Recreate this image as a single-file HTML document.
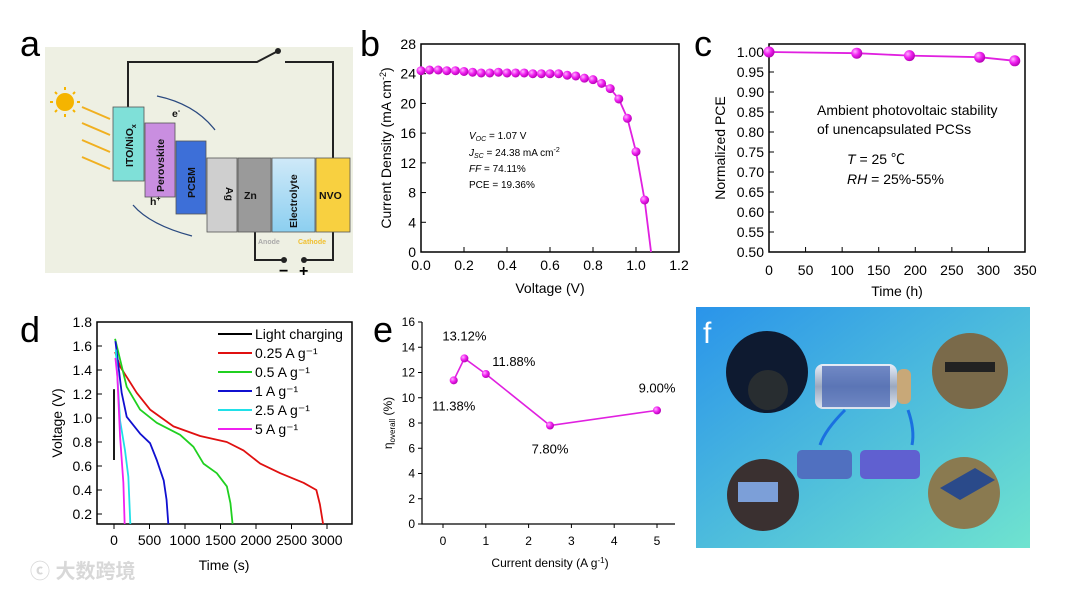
<!DOCTYPE html>
<html><head><meta charset="utf-8"><style>
html,body{margin:0;padding:0;background:#fff;}
svg{display:block;font-family:"Liberation Sans","Noto Sans CJK SC",sans-serif;}
</style></head><body>
<svg id="fig" width="1080" height="589" viewBox="0 0 1080 589" xmlns="http://www.w3.org/2000/svg">
<defs>
<radialGradient id="ball" cx="0.35" cy="0.35" r="0.7"><stop offset="0" stop-color="#ffb0ff"/><stop offset="0.5" stop-color="#f020f0"/><stop offset="1" stop-color="#b000b0"/></radialGradient>
<linearGradient id="fbg" x1="0" y1="0" x2="1" y2="1"><stop offset="0" stop-color="#2a94ea"/><stop offset="1" stop-color="#6fe3cf"/></linearGradient>
<linearGradient id="cyl" x1="0" y1="0" x2="0" y2="1"><stop offset="0" stop-color="#e8eef8"/><stop offset="0.5" stop-color="#9aa8c0"/><stop offset="1" stop-color="#dfe6f0"/></linearGradient>
<linearGradient id="elec" x1="0" y1="0" x2="0" y2="1"><stop offset="0" stop-color="#cfe9f8"/><stop offset="1" stop-color="#8ccff0"/></linearGradient>
</defs>

<!-- Panel a -->
<g>
<text x="20" y="56" font-size="36">a</text>
<rect x="45" y="47" width="308" height="226" fill="#eef0e3"/>
<g fill="none" stroke="#222" stroke-width="2">
<polyline points="128,107 128,62 257,62 278,51"/>
<polyline points="285,62 333,62 333,158"/>
<polyline points="255,232 255,260 284,260"/>
<polyline points="304,260 333,260 333,232"/>
</g>
<circle cx="278" cy="51" r="3" fill="#222"/>
<circle cx="284" cy="260" r="3" fill="#222"/>
<circle cx="304" cy="260" r="3" fill="#222"/>
<text x="279" y="276" font-size="16" font-weight="bold">−</text>
<text x="299" y="276" font-size="16" font-weight="bold">+</text>
<g>
<circle cx="65" cy="102" r="9" fill="#f5b400"/>
<g stroke="#f5b400" stroke-width="2"><line x1="65" y1="87" x2="65" y2="90"/><line x1="65" y1="114" x2="65" y2="117"/><line x1="50" y1="102" x2="53" y2="102"/><line x1="77" y1="102" x2="80" y2="102"/><line x1="55" y1="92" x2="57" y2="94"/><line x1="73" y1="110" x2="75" y2="112"/><line x1="55" y1="112" x2="57" y2="110"/><line x1="73" y1="94" x2="75" y2="92"/></g>
</g>
<g stroke="#f0b020" stroke-width="2">
<line x1="82" y1="107" x2="110" y2="119"/><line x1="82" y1="123" x2="110" y2="135"/><line x1="82" y1="140" x2="110" y2="152"/><line x1="82" y1="157" x2="110" y2="169"/>
</g>
<g stroke="#555" stroke-width="0.8" font-weight="bold" font-size="11">
<rect x="113" y="107" width="31" height="74" fill="#7fe0d8"/>
<rect x="145" y="123" width="30" height="74" fill="#c98ee0"/>
<rect x="176" y="141" width="30" height="73" fill="#3d6fd8"/>
<rect x="207" y="158" width="30" height="74" fill="#cfcfcf"/>
<rect x="238" y="158" width="33" height="74" fill="#9a9a9a"/>
<rect x="272" y="158" width="43" height="74" fill="url(#elec)"/>
<rect x="316" y="158" width="34" height="74" fill="#f8d040"/>
</g>
<g font-weight="bold" font-size="10.5" fill="#111">
<text transform="translate(133,167) rotate(-90)">ITO/NiO<tspan font-size="7" dy="3">x</tspan></text>
<text transform="translate(164,192) rotate(-90)">Perovskite</text>
<text transform="translate(195,198) rotate(-90)">PCBM</text>
<text transform="translate(226,187) rotate(90)">Ag</text>
<text x="244" y="199">Zn</text>
<text transform="translate(297,228) rotate(-90)">Electrolyte</text>
<text x="319" y="199">NVO</text>
<text x="172" y="117">e<tspan font-size="7" dy="-4">-</tspan></text>
<text x="150" y="205">h<tspan font-size="7" dy="-4">+</tspan></text>
</g>
<path d="M157,96 Q195,104 215,130" fill="none" stroke="#2b4a80" stroke-width="1.3"/>
<path d="M192,236 Q150,225 133,205" fill="none" stroke="#2b4a80" stroke-width="1.3"/>
<text x="258" y="244" font-size="7" fill="#aaa" font-weight="bold">Anode</text>
<text x="298" y="244" font-size="7" fill="#f0c030" font-weight="bold">Cathode</text>
</g>

<g id="pb"></g>
<g id="pc"></g>
<g id="pd"></g>
<g id="pe"></g>

<!-- Panel f -->
<g>
<rect x="696" y="307" width="334" height="241" fill="url(#fbg)"/>
<text x="703" y="343" font-size="30" fill="#fff">f</text>
<circle cx="767" cy="372" r="41" fill="#0e1a30"/>
<circle cx="768" cy="390" r="20" fill="#3a3a30" opacity="0.6"/>
<circle cx="970" cy="371" r="38" fill="#7a6a4a"/>
<rect x="945" y="362" width="50" height="10" fill="#222"/>
<circle cx="763" cy="495" r="36" fill="#3a3030"/>
<rect x="738" y="482" width="40" height="20" fill="#7c9fd8"/>
<circle cx="964" cy="493" r="36" fill="#8a7a50"/>
<polygon points="940,488 975,468 995,480 960,500" fill="#2a4a8a"/>
<rect x="815" y="364" width="82" height="45" rx="8" fill="url(#cyl)"/>
<rect x="822" y="366" width="68" height="41" fill="#4060b0" opacity="0.7"/>
<rect x="897" y="369" width="14" height="35" rx="6" fill="#c8a878"/>
<rect x="797" y="450" width="55" height="29" rx="5" fill="#5070c0"/>
<rect x="860" y="450" width="60" height="29" rx="5" fill="#6060d0"/>
<path d="M845,410 Q825,430 820,445" stroke="#1a70e0" stroke-width="3" fill="none"/>
<path d="M908,410 Q915,430 912,445" stroke="#1a70e0" stroke-width="3" fill="none"/>
</g>

<text x="30" y="578" font-size="20" fill="#d8d8d8" font-weight="bold">ⓒ 大数跨境</text>
</svg>

<script>
// ---- Panel b data ----
const bVoltage = [0,0.04,0.08,0.12,0.16,0.2,0.24,0.28,0.32,0.36,0.4,0.44,0.48,0.52,0.56,0.6,0.64,0.68,0.72,0.76,0.8,0.84,0.88,0.92,0.96,1.0,1.04];
const bCurrent = [24.4,24.5,24.5,24.4,24.4,24.3,24.2,24.1,24.1,24.2,24.1,24.1,24.1,24.0,24.0,24.0,24.0,23.8,23.7,23.4,23.2,22.7,22.0,20.6,18.0,13.5,7.0];
const bVoc = 1.07;
const bXTicks = ["0.0","0.2","0.4","0.6","0.8","1.0","1.2"];
const bYTicks = [0,4,8,12,16,20,24,28];
// ---- Panel c data ----
const cTime = [0,120,192,288,336];
const cPCE = [1.0,0.997,0.991,0.987,0.978];
const cXTicks = [0,50,100,150,200,250,300,350];
const cYTicks = ["0.50","0.55","0.60","0.65","0.70","0.75","0.80","0.85","0.90","0.95","1.00"];
// ---- Panel d data ----
const dLabels = ["Light charging","0.25 A g⁻¹","0.5 A g⁻¹","1 A g⁻¹","2.5 A g⁻¹","5 A g⁻¹"];
const dColors = ["#000","#e01010","#20d020","#1010d0","#20e0e8","#f020f0"];
const dLight = [[0,0.65],[0,1.24]];
const dRed = [[15,1.55],[85,1.43],[320,1.21],[508,1.07],[837,0.93],[1213,0.85],[1589,0.80],[1824,0.73],[2059,0.62],[2341,0.54],[2670,0.46],[2850,0.40],[2900,0.28],[2945,0.1]];
const dGreen = [[15,1.66],[179,1.26],[367,1.07],[602,0.96],[931,0.86],[1119,0.76],[1260,0.62],[1448,0.54],[1590,0.43],[1640,0.29],[1670,0.1]];
const dBlue = [[20,1.64],[108,1.21],[179,1.01],[367,0.87],[508,0.79],[602,0.65],[700,0.48],[740,0.32],[765,0.1]];
const dCyan = [[25,1.57],[85,0.98],[155,0.73],[202,0.51],[230,0.1]];
const dMagenta = [[20,1.50],[47,1.35],[85,0.85],[132,0.46],[150,0.1]];
const dXTicks = [0,500,1000,1500,2000,2500,3000];
const dYTicks = ["0.2","0.4","0.6","0.8","1.0","1.2","1.4","1.6","1.8"];
// ---- Panel e data ----
const eCurrent = [0.25,0.5,1,2.5,5];
const eEff = [11.38,13.12,11.88,7.80,9.00];
const eLabels = ["11.38%","13.12%","11.88%","7.80%","9.00%"];
const eXTicks = [0,1,2,3,4,5];
const eYTicks = [0,2,4,6,8,10,12,14,16];

const NS = "http://www.w3.org/2000/svg";
function mk(parent, tag, attrs, text){
  const el = document.createElementNS(NS, tag);
  for (const k in attrs) el.setAttribute(k, attrs[k]);
  if (text !== undefined) el.textContent = text;
  parent.appendChild(el);
  return el;
}
function lin(d0,d1,r0,r1){ return v => r0 + (v-d0)*(r1-r0)/(d1-d0); }

// ===== Panel b =====
(function(){
  const g = document.getElementById('pb');
  const x = lin(0,1.2,421,679), y = lin(0,28,252,44);
  let t = mk(g,'text',{x:360,y:56,'font-size':36});
  t.textContent='b';
  
  
  const fr = mk(g,'rect',{x:421,y:44,width:258,height:208,fill:'none',stroke:'#000','stroke-width':1.5});
  
  
  bXTicks.forEach(v=>{
    const px=x(parseFloat(v));
    mk(g,'line',{x1:px,y1:252,x2:px,y2:247,stroke:'#000'});
    const tl = mk(g,'text',{x:px,y:270,'font-size':14,'text-anchor':'middle'},v);
    
    
  });
  bYTicks.forEach(v=>{
    const py=y(v);
    mk(g,'line',{x1:421,y1:py,x2:426,y2:py,stroke:'#000'});
    const tl = mk(g,'text',{x:416,y:py+5,'font-size':14,'text-anchor':'end'},v);
    
    
  });
  const xt = mk(g,'text',{x:550,y:293,'font-size':14,'text-anchor':'middle'},'Voltage (V)');
  
  
  const yt = mk(g,'text',{transform:'translate(391,148) rotate(-90)','font-size':14,'text-anchor':'middle'});
  yt.innerHTML='Current Density (mA cm<tspan font-size="9" dy="-5">-2</tspan><tspan dy="5">)</tspan>';
  
  
  const pts = bVoltage.map((v,i)=>x(v)+','+y(bCurrent[i])).concat([x(bVoc)+','+y(0)]);
  const line = mk(g,'polyline',{points:pts.join(' '),fill:'none',stroke:'#e020e0','stroke-width':1.8});
  
  
  bVoltage.forEach((v,i)=>{
    const c = mk(g,'circle',{cx:x(v),cy:y(bCurrent[i]),r:4.5,fill:'url(#ball)'});
    
    
  });
  const ann = mk(g,'text',{x:469,y:139,'font-size':10});
  ann.innerHTML='<tspan x="469" font-style="italic">V<tspan font-size="7" dy="2">OC</tspan></tspan><tspan dy="-2"> = 1.07 V</tspan><tspan x="469" dy="17" font-style="italic">J<tspan font-size="7" dy="2">SC</tspan></tspan><tspan dy="-2"> = 24.38 mA cm</tspan><tspan font-size="7" dy="-4">-2</tspan><tspan x="469" dy="20" font-style="italic">FF</tspan><tspan> = 74.11%</tspan><tspan x="469" dy="16">PCE = 19.36%</tspan>';
  
  
})();

// ===== Panel c =====
(function(){
  const g = document.getElementById('pc');
  const x = lin(0,350,769,1025), y = lin(0.5,1.0,252,52);
  let t = mk(g,'text',{x:694,y:56,'font-size':36},'c');
  
  
  const fr = mk(g,'rect',{x:769,y:44,width:256,height:208,fill:'none',stroke:'#000','stroke-width':1.5});
  
  
  cXTicks.forEach(v=>{
    const px=x(v);
    mk(g,'line',{x1:px,y1:252,x2:px,y2:247,stroke:'#000'});
    const tl = mk(g,'text',{x:px,y:275,'font-size':14,'text-anchor':'middle'},v);
    
    
  });
  cYTicks.forEach(v=>{
    const py=y(parseFloat(v));
    mk(g,'line',{x1:769,y1:py,x2:774,y2:py,stroke:'#000'});
    const tl = mk(g,'text',{x:764,y:py+5,'font-size':14,'text-anchor':'end'},v);
    
    
  });
  const xt = mk(g,'text',{x:897,y:296,'font-size':14,'text-anchor':'middle'},'Time (h)');
  
  
  const yt = mk(g,'text',{transform:'translate(725,148) rotate(-90)','font-size':14,'text-anchor':'middle'},'Normalized PCE');
  
  
  const line = mk(g,'polyline',{points:cTime.map((v,i)=>x(v)+','+y(cPCE[i])).join(' '),fill:'none',stroke:'#e020e0','stroke-width':1.8});
  
  
  cTime.forEach((v,i)=>{
    const c = mk(g,'circle',{cx:x(v),cy:y(cPCE[i]),r:5.5,fill:'url(#ball)'});
    
    
  });
  const a = mk(g,'text',{x:817,y:115,'font-size':14});
  a.innerHTML='<tspan x="817">Ambient photovoltaic stability</tspan><tspan x="817" dy="19">of unencapsulated PCSs</tspan><tspan x="847" dy="30"><tspan font-style="italic">T</tspan> = 25 ℃</tspan><tspan x="847" dy="20"><tspan font-style="italic">RH</tspan> = 25%-55%</tspan>';
  
  
})();

// ===== Panel d =====
(function(){
  const g = document.getElementById('pd');
  const x = lin(0,3000,114,327), y = lin(0.2,1.8,514,322);
  let t = mk(g,'text',{x:20,y:342,'font-size':36},'d');
  
  
  const fr = mk(g,'rect',{x:97,y:322,width:255,height:202,fill:'none',stroke:'#000','stroke-width':1.5});
  
  
  dXTicks.forEach(v=>{
    const px=x(v);
    mk(g,'line',{x1:px,y1:524,x2:px,y2:529,stroke:'#000'});
    const tl = mk(g,'text',{x:px,y:545,'font-size':14,'text-anchor':'middle'},v);
    
    
  });
  dYTicks.forEach(v=>{
    const py=y(parseFloat(v));
    mk(g,'line',{x1:97,y1:py,x2:102,y2:py,stroke:'#000'});
    const tl = mk(g,'text',{x:92,y:py+5,'font-size':14,'text-anchor':'end'},v);
    
    
  });
  const xt = mk(g,'text',{x:224,y:570,'font-size':14,'text-anchor':'middle'},'Time (s)');
  
  
  const yt = mk(g,'text',{transform:'translate(62,423) rotate(-90)','font-size':14,'text-anchor':'middle'},'Voltage (V)');
  
  
  const series = [dLight,dRed,dGreen,dBlue,dCyan,dMagenta];
  const names = ['light-charging-curve','discharge-0-25','discharge-0-5','discharge-1','discharge-2-5','discharge-5'];
  series.forEach((s,i)=>{
    const pl = mk(g,'polyline',{points:s.map(p=>x(p[0])+','+Math.min(524,y(p[1]))).join(' '),fill:'none',stroke:dColors[i],'stroke-width':1.8,'stroke-linejoin':'round'});
    
    
    const ly = 334 + i*19;
    const ll = mk(g,'line',{x1:218,y1:ly,x2:252,y2:ly,stroke:dColors[i],'stroke-width':2});
    
    
    const lt = mk(g,'text',{x:255,y:ly+5,'font-size':14},dLabels[i]);
    
    
  });
})();

// ===== Panel e =====
(function(){
  const g = document.getElementById('pe');
  const x = lin(0,5,443,657), y = lin(0,16,524,322);
  let t = mk(g,'text',{x:373,y:342,'font-size':36},'e');
  
  
  const ax = mk(g,'polyline',{points:'422,322 422,524 675,524',fill:'none',stroke:'#000','stroke-width':1.2});
  
  
  eXTicks.forEach(v=>{
    const px=x(v);
    mk(g,'line',{x1:px,y1:524,x2:px,y2:528,stroke:'#000'});
    const tl = mk(g,'text',{x:px,y:545,'font-size':12,'text-anchor':'middle'},v);
    
    
  });
  eYTicks.forEach(v=>{
    const py=y(v);
    mk(g,'line',{x1:418,y1:py,x2:422,y2:py,stroke:'#000'});
    const tl = mk(g,'text',{x:415,y:py+4,'font-size':12,'text-anchor':'end'},v);
    
    
  });
  const xt = mk(g,'text',{x:550,y:567,'font-size':12,'text-anchor':'middle'});
  xt.innerHTML='Current density (A g<tspan font-size="8" dy="-4">-1</tspan><tspan dy="4">)</tspan>';
  
  
  const yt = mk(g,'text',{transform:'translate(392,423) rotate(-90)','font-size':12,'text-anchor':'middle'});
  yt.innerHTML='η<tspan font-size="8" dy="3">overall</tspan><tspan dy="-3"> (%)</tspan>';
  
  
  const line = mk(g,'polyline',{points:eCurrent.map((v,i)=>x(v)+','+y(eEff[i])).join(' '),fill:'none',stroke:'#e020e0','stroke-width':1.6});
  
  
  const off = [[0,30],[0,-18],[28,-8],[0,28],[0,-18]];
  eCurrent.forEach((v,i)=>{
    const c = mk(g,'circle',{cx:x(v),cy:y(eEff[i]),r:4,fill:'url(#ball)'});
    
    
    const l = mk(g,'text',{x:x(v)+off[i][0],y:y(eEff[i])+off[i][1],'font-size':13,'text-anchor':'middle'},eLabels[i]);
    
    
  });
})();
</script>
</body></html>
